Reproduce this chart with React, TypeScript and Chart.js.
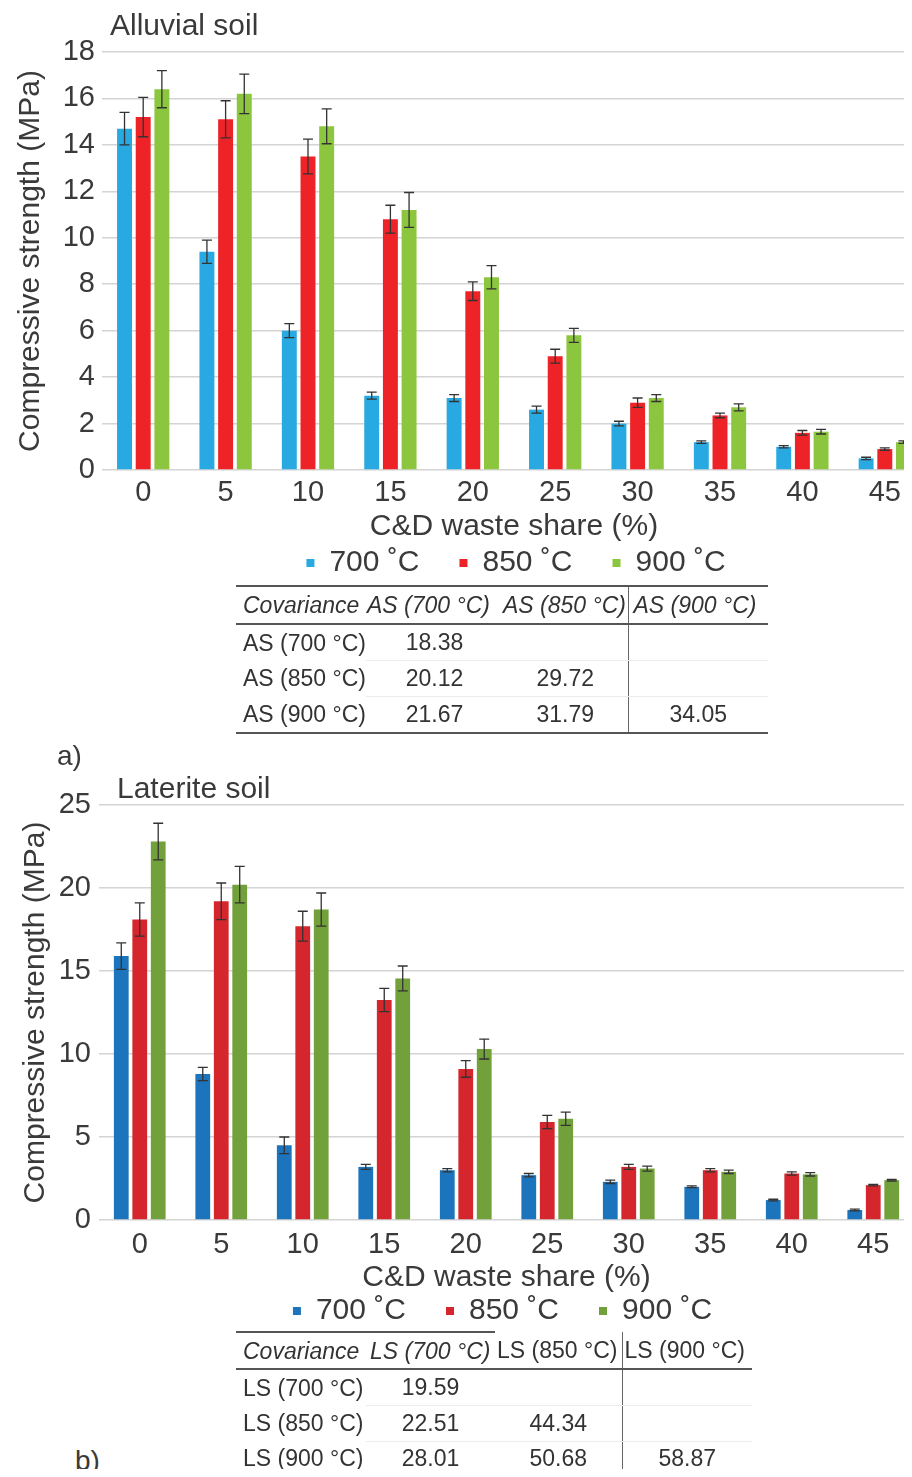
import React, { useEffect, useRef } from "react";
import { Chart, registerables } from "chart.js";

Chart.register(...registerables);

// ---------- data ----------
const categories = ["0", "5", "10", "15", "20", "25", "30", "35", "40", "45"];
const seriesLabels = ["700 ˚C", "850 ˚C", "900 ˚C"];

// Alluvial soil (a)
const asVals700 = [14.7, 9.4, 6.0, 3.2, 3.1, 2.6, 2.0, 1.2, 1.0, 0.5];
const asVals850 = [15.2, 15.1, 13.5, 10.8, 7.7, 4.9, 2.9, 2.35, 1.6, 0.9];
const asVals900 = [16.4, 16.2, 14.8, 11.2, 8.3, 5.8, 3.1, 2.7, 1.65, 1.2];
const asErr700 = [0.7, 0.5, 0.3, 0.15, 0.15, 0.15, 0.1, 0.05, 0.05, 0.05];
const asErr850 = [0.85, 0.8, 0.75, 0.6, 0.4, 0.3, 0.2, 0.1, 0.1, 0.05];
const asErr900 = [0.8, 0.85, 0.75, 0.75, 0.5, 0.3, 0.15, 0.15, 0.1, 0.05];
const asYMax = 18;
const asYStep = 2;

// Laterite soil (b)
const lsVals700 = [15.9, 8.8, 4.5, 3.2, 3.0, 2.7, 2.3, 2.0, 1.2, 0.6];
const lsVals850 = [18.1, 19.2, 17.7, 13.25, 9.1, 5.9, 3.2, 3.0, 2.8, 2.1];
const lsVals900 = [22.8, 20.2, 18.7, 14.55, 10.3, 6.1, 3.1, 2.9, 2.75, 2.4];
const lsErr700 = [0.8, 0.4, 0.5, 0.15, 0.1, 0.1, 0.1, 0.05, 0.05, 0.05];
const lsErr850 = [1.0, 1.1, 0.9, 0.7, 0.5, 0.4, 0.15, 0.1, 0.1, 0.05];
const lsErr900 = [1.1, 1.1, 1.0, 0.75, 0.6, 0.4, 0.15, 0.1, 0.1, 0.05];
const lsYMax = 25;
const lsYStep = 5;

// covariance tables
const asCovHeader = ["Covariance", "AS (700 °C)", "AS (850 °C)", "AS (900 °C)"];
const asCovRows = [
  ["AS (700 °C)", "18.38", "", ""],
  ["AS (850 °C)", "20.12", "29.72", ""],
  ["AS (900 °C)", "21.67", "31.79", "34.05"],
];
const lsCovHeader = ["Covariance", "LS (700 °C)", "LS (850 °C)", "LS (900 °C)"];
const lsCovRows = [
  ["LS (700 °C)", "19.59", "", ""],
  ["LS (850 °C)", "22.51", "44.34", ""],
  ["LS (900 °C)", "28.01", "50.68", "58.87"],
];

// ---------- styles ----------
const FONT = "'Liberation Sans', Arial, Helvetica, sans-serif";
const TEXT = "#3a3a3a";
const asColors = ["#29a9e1", "#ee2327", "#8cc63f"];
const lsColors = ["#1c75bc", "#d4262c", "#72a03a"];

Chart.defaults.font.family = FONT;
Chart.defaults.color = TEXT;

function makeErrorBarPlugin(errors: number[][]) {
  return {
    id: "errorBars",
    afterDatasetsDraw(chart: any) {
      const ctx = chart.ctx;
      const y = chart.scales.y;
      ctx.save();
      ctx.strokeStyle = "#333333";
      ctx.lineWidth = 1.3;
      chart.data.datasets.forEach((ds: any, i: number) => {
        const meta = chart.getDatasetMeta(i);
        meta.data.forEach((bar: any, j: number) => {
          const v = ds.data[j];
          const e = errors[i][j];
          const x = bar.x;
          const yt = y.getPixelForValue(v + e);
          const yb = y.getPixelForValue(v - e);
          const cap = 5;
          ctx.beginPath();
          ctx.moveTo(x, yt);
          ctx.lineTo(x, yb);
          ctx.moveTo(x - cap, yt);
          ctx.lineTo(x + cap, yt);
          ctx.moveTo(x - cap, yb);
          ctx.lineTo(x + cap, yb);
          ctx.stroke();
        });
      });
      ctx.restore();
    },
  };
}

type PanelLayout = {
  padTop: number;
  yWidth: number;
  yTickPad: number;
  yTitlePad: number;
  xHeight: number;
  xTickPad: number;
  xTitlePadBottom: number;
  rightWidth: number;
  legendPad: number;
};

function buildConfig(
  values: number[][],
  errors: number[][],
  colors: string[],
  yMax: number,
  yStep: number,
  L: PanelLayout
): any {
  return {
    type: "bar",
    data: {
      labels: categories,
      datasets: values.map((vals, i) => ({
        label: seriesLabels[i],
        data: vals,
        backgroundColor: colors[i],
        borderColor: colors[i],
        borderWidth: 0,
        barPercentage: 0.8,
        categoryPercentage: 0.68,
        yAxisID: "y",
      })),
    },
    options: {
      responsive: false,
      animation: false,
      events: [],
      layout: { padding: { top: L.padTop, left: 0, right: 0, bottom: 0 } },
      plugins: {
        tooltip: { enabled: false },
        title: { display: false },
        legend: {
          display: true,
          position: "bottom",
          labels: {
            boxWidth: 8,
            boxHeight: 8,
            padding: L.legendPad,
            color: TEXT,
            font: { size: 30, family: FONT },
          },
        },
      },
      scales: {
        x: {
          type: "category",
          grid: { display: false, drawTicks: false },
          border: { display: false },
          ticks: { color: TEXT, font: { size: 29, family: FONT }, padding: L.xTickPad },
          title: {
            display: true,
            text: "C&D waste share (%)",
            color: TEXT,
            font: { size: 30, family: FONT },
            padding: { top: 0, bottom: L.xTitlePadBottom },
          },
          afterFit(s: any) {
            s.height = L.xHeight;
          },
        },
        y: {
          type: "linear",
          position: "left",
          min: 0,
          max: yMax,
          grid: { color: "#d4d4d4", lineWidth: 1.5, drawTicks: false },
          border: { display: false },
          ticks: {
            stepSize: yStep,
            color: TEXT,
            font: { size: 29, family: FONT },
            padding: L.yTickPad,
          },
          title: {
            display: true,
            text: "Compressive strength (MPa)",
            color: TEXT,
            font: { size: 30, family: FONT },
            padding: { top: L.yTitlePad, bottom: 0 },
          },
          afterFit(s: any) {
            s.width = L.yWidth;
          },
        },
        yRight: {
          type: "linear",
          position: "right",
          display: true,
          grid: { display: false, drawTicks: false },
          border: { display: false },
          ticks: { display: false },
          afterFit(s: any) {
            s.width = L.rightWidth;
          },
        },
      },
    },
    plugins: [makeErrorBarPlugin(errors)],
  };
}

function BarPanel({
  makeConfig,
  top,
  width,
  height,
}: {
  makeConfig: () => any;
  top: number;
  width: number;
  height: number;
}) {
  const ref = useRef<HTMLCanvasElement | null>(null);
  useEffect(() => {
    if (!ref.current) return;
    const chart = new Chart(ref.current, makeConfig());
    return () => chart.destroy();
  }, []);
  return (
    <canvas
      ref={ref}
      width={width}
      height={height}
      style={{ position: "absolute", left: 0, top, width, height }}
    />
  );
}

const LINE = "2px solid #555";
const FAINT = "1px solid #ececec";

function CovTable({
  left,
  top,
  colW,
  header,
  headerItalic,
  headerPad,
  rows,
  rowH,
  headerH,
  topBorderCols,
}: {
  left: number;
  top: number;
  colW: number[];
  header: string[];
  headerItalic: boolean[];
  headerPad: number[];
  rows: string[][];
  rowH: number[];
  headerH: number;
  topBorderCols: number;
}) {
  const total = colW.reduce((a, b) => a + b, 0);
  return (
    <table
      style={{
        position: "absolute",
        left,
        top,
        width: total,
        tableLayout: "fixed",
        borderCollapse: "collapse",
        fontFamily: FONT,
        fontSize: 23,
        lineHeight: "24px",
        color: "#333",
      }}
    >
      <colgroup>
        {colW.map((w, i) => (
          <col key={i} style={{ width: w }} />
        ))}
      </colgroup>
      <thead>
        <tr style={{ height: headerH }}>
          {header.map((h, i) => (
            <th
              key={i}
              style={{
                padding: 0,
                paddingLeft: headerPad[i],
                textAlign: "left",
                fontWeight: "normal",
                fontStyle: headerItalic[i] ? "italic" : "normal",
                whiteSpace: "nowrap",
                overflow: "visible",
                borderTop: i < topBorderCols ? LINE : "none",
                borderBottom: LINE,
                borderLeft: i === 3 ? "1px solid #666" : "none",
              }}
            >
              {h}
            </th>
          ))}
        </tr>
      </thead>
      <tbody>
        {rows.map((r, ri) => (
          <tr key={ri} style={{ height: rowH[ri] }}>
            {r.map((c, ci) => (
              <td
                key={ci}
                style={{
                  padding: 0,
                  paddingLeft: ci === 0 ? 7 : 0,
                  textAlign: ci === 0 ? "left" : "center",
                  whiteSpace: "nowrap",
                  borderBottom: ri === rows.length - 1 ? LINE : ci > 0 ? FAINT : "none",
                  borderLeft: ci === 3 ? "1px solid #666" : "none",
                }}
              >
                {c}
              </td>
            ))}
          </tr>
        ))}
      </tbody>
    </table>
  );
}

const labelStyle = (left: number, top: number, size: number): React.CSSProperties => ({
  position: "absolute",
  left,
  top,
  fontFamily: FONT,
  fontSize: size,
  lineHeight: `${size}px`,
  color: TEXT,
  whiteSpace: "nowrap",
});

export default function App() {
  const layoutA: PanelLayout = {
    padTop: 52,
    yWidth: 102,
    yTickPad: 7,
    yTitlePad: 13,
    xHeight: 38,
    xTickPad: 6,
    xTitlePadBottom: -37,
    rightWidth: 106,
    legendPad: 40,
  };
  const layoutB: PanelLayout = {
    padTop: 45,
    yWidth: 99,
    yTickPad: 8,
    yTitlePad: 18,
    xHeight: 36,
    xTickPad: 8,
    xTitlePadBottom: -40,
    rightWidth: 91,
    legendPad: 40,
  };

  return (
    <div
      style={{
        position: "relative",
        width: 912,
        height: 1477,
        margin: -8,
        overflow: "hidden",
        background: "#fff",
      }}
    >
      <BarPanel
        top={0}
        width={1032}
        height={588}
        makeConfig={() =>
          buildConfig(
            [asVals700, asVals850, asVals900],
            [asErr700, asErr850, asErr900],
            asColors,
            asYMax,
            asYStep,
            layoutA
          )
        }
      />
      <BarPanel
        top={760}
        width={1005}
        height={576}
        makeConfig={() =>
          buildConfig(
            [lsVals700, lsVals850, lsVals900],
            [lsErr700, lsErr850, lsErr900],
            lsColors,
            lsYMax,
            lsYStep,
            layoutB
          )
        }
      />

      <div style={labelStyle(110, 10, 30)}>Alluvial soil</div>
      <div style={labelStyle(57, 742, 28)}>a)</div>
      <div style={labelStyle(117, 773, 30)}>Laterite soil</div>
      <div style={labelStyle(75, 1447, 28)}>b)</div>

      <CovTable
        left={236}
        top={585}
        colW={[130, 137, 125, 140]}
        header={asCovHeader}
        headerItalic={[true, true, true, true]}
        headerPad={[7, 1, 0, 5]}
        rows={asCovRows}
        headerH={38}
        rowH={[36, 36, 37]}
        topBorderCols={4}
      />
      <CovTable
        left={236}
        top={1331}
        colW={[130, 129, 127, 130]}
        header={lsCovHeader}
        headerItalic={[true, true, false, false]}
        headerPad={[7, 4, 2, 2]}
        rows={lsCovRows}
        headerH={37}
        rowH={[36, 36, 35]}
        topBorderCols={2}
      />
    </div>
  );
}
